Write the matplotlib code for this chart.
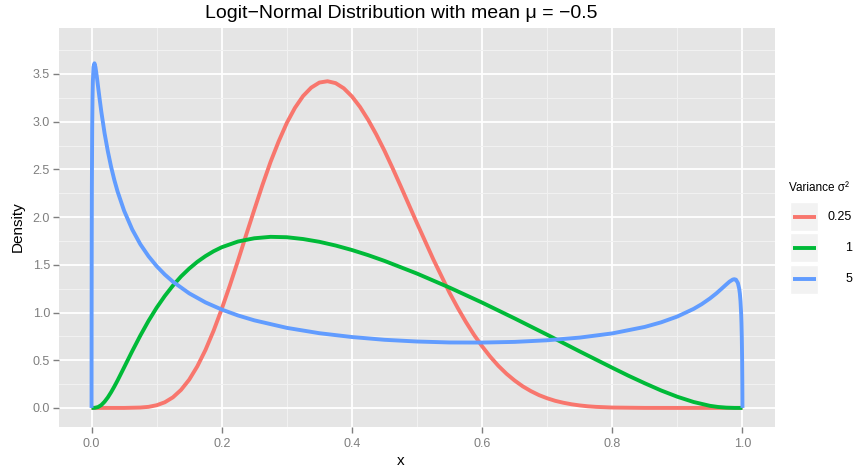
# Logit-normal tettheter, mean -0.5
import matplotlib
matplotlib.use("Agg")
import matplotlib.pyplot as plt
from matplotlib.patches import Rectangle
from matplotlib.lines import Line2D

plt.rcParams['font.family'] = ['Liberation Sans', 'DejaVu Sans']

# Avleste verdier
x_red = [0.0, 0.05, 0.075, 0.0875, 0.1, 0.1125, 0.125, 0.1375, 0.15, 0.1625, 0.175, 0.1875,
         0.2, 0.2125, 0.225, 0.2375, 0.25, 0.2625, 0.275, 0.2875, 0.3, 0.3125, 0.325, 0.3375,
         0.35, 0.3625, 0.375, 0.3875, 0.4, 0.4125, 0.425, 0.4375, 0.45, 0.4625, 0.475, 0.5,
         0.525, 0.55, 0.5625, 0.575, 0.5875, 0.6, 0.6125, 0.625, 0.6375, 0.65, 0.6625, 0.675,
         0.6875, 0.7, 0.7125, 0.725, 0.7375, 0.75, 0.7625, 0.775, 0.8, 0.85, 0.9, 1.0]
y_red = [0.0, 0.0, 0.004, 0.011, 0.028, 0.059, 0.111, 0.189, 0.296, 0.436, 0.607, 0.809,
         1.037, 1.284, 1.544, 1.813, 2.076, 2.335, 2.578, 2.794, 2.987, 3.145, 3.269, 3.357,
         3.410, 3.424, 3.404, 3.350, 3.265, 3.154, 3.019, 2.865, 2.696, 2.513, 2.323, 1.936,
         1.558, 1.207, 1.049, 0.902, 0.767, 0.646, 0.537, 0.441, 0.358, 0.287, 0.226, 0.176,
         0.134, 0.101, 0.074, 0.054, 0.038, 0.026, 0.017, 0.011, 0.004, 0.0003, 0.0, 0.0]

x_green = [0.0, 0.005, 0.01, 0.015, 0.02, 0.025, 0.03, 0.035, 0.04, 0.05, 0.0625, 0.075, 0.0875,
           0.1, 0.1125, 0.125, 0.1375, 0.15, 0.1625, 0.175, 0.1875, 0.2, 0.225, 0.25, 0.275,
           0.3, 0.325, 0.35, 0.375, 0.4, 0.425, 0.45, 0.5, 0.55, 0.6, 0.65, 0.7, 0.75, 0.8,
           0.825, 0.85, 0.875, 0.9, 0.925, 0.95, 0.9625, 0.975, 0.9875, 1.0]
y_green = [0.0, 0.001, 0.009, 0.030, 0.065, 0.110, 0.164, 0.224, 0.288, 0.424, 0.595, 0.759, 0.912,
           1.050, 1.173, 1.282, 1.378, 1.460, 1.531, 1.591, 1.642, 1.684, 1.744, 1.778, 1.793,
           1.789, 1.770, 1.741, 1.702, 1.655, 1.601, 1.541, 1.408, 1.261, 1.104, 0.938, 0.767, 0.592, 0.421,
           0.337, 0.258, 0.183, 0.117, 0.062, 0.022, 0.010, 0.003, 0.0002, 0.0]

x_blue = [0.0, 0.00005, 0.0001, 0.0002, 0.0003, 0.0005, 0.001, 0.0015, 0.002, 0.003, 0.0045,
          0.006, 0.008, 0.01, 0.0125, 0.015, 0.02, 0.025, 0.03, 0.035, 0.04, 0.05, 0.0625, 0.075,
          0.0875, 0.1, 0.1125, 0.125, 0.15, 0.175, 0.2, 0.225, 0.25, 0.3, 0.35, 0.4, 0.45, 0.5,
          0.55, 0.6, 0.65, 0.7, 0.75, 0.8, 0.85, 0.875, 0.9, 0.925, 0.9375, 0.95, 0.96, 0.97,
          0.975, 0.98, 0.985, 0.9875, 0.99, 0.993, 0.995, 0.996, 0.997, 0.998, 0.9985, 0.999,
          0.9995, 0.9998, 0.9999, 1.0]
y_blue = [0.0, 0.516, 0.905, 1.442, 1.813, 2.309, 2.945, 3.251, 3.418, 3.572, 3.612,
          3.572, 3.478, 3.368, 3.234, 3.105, 2.879, 2.691, 2.528, 2.389, 2.268, 2.067, 1.870, 1.715,
          1.590, 1.486, 1.398, 1.323, 1.201, 1.106, 1.031, 0.969, 0.918, 0.839, 0.783, 0.743, 0.714, 0.696,
          0.686, 0.685, 0.692, 0.709, 0.737, 0.781, 0.849, 0.897, 0.958, 1.038, 1.088, 1.147, 1.201, 1.262,
          1.293, 1.323, 1.345, 1.349, 1.344, 1.309, 1.250, 1.199, 1.118, 0.987, 0.886, 0.739,
          0.506, 0.262, 0.144, 0.0]

series = [("0.25", x_red, y_red, "#F8766D"),
          ("1", x_green, y_green, "#00BA38"),
          ("5", x_blue, y_blue, "#619CFF")]

W, H = 858, 473
fig = plt.figure(figsize=(W / 100, H / 100), dpi=100)
ax = fig.add_axes([59 / W, 1 - 427 / H, (775 - 59) / W, (427 - 27.7) / H])
ax.set_facecolor("#E5E5E5")

for lab, xs, ys, col in series:
    ax.plot(xs, ys, color=col, lw=2.8, solid_capstyle="butt", solid_joinstyle="round", zorder=3)

ax.set_xlim(-0.05, 1.05)
ax.set_ylim(-0.2, 3.985)
ax.set_xticks([0, 0.2, 0.4, 0.6, 0.8, 1.0])
ax.set_xticklabels(["0.0", "0.2", "0.4", "0.6", "0.8", "1.0"])
ax.set_yticks([0, 0.5, 1.0, 1.5, 2.0, 2.5, 3.0, 3.5])
ax.set_yticklabels(["0.0", "0.5", "1.0", "1.5", "2.0", "2.5", "3.0", "3.5"])
ax.set_xticks([0.1, 0.3, 0.5, 0.7, 0.9], minor=True)
ax.set_yticks([0.25, 0.75, 1.25, 1.75, 2.25, 2.75, 3.25, 3.75], minor=True)
ax.grid(which="major", color="white", lw=1.3)
ax.grid(which="minor", color="#F2F2F2", lw=0.7)
ax.set_axisbelow(True)
ax.tick_params(which="major", length=4.5, width=1, color="#7F7F7F", labelcolor="#7F7F7F", labelsize=9)
ax.tick_params(axis="x", pad=3.5)
ax.tick_params(axis="y", pad=2)
ax.tick_params(which="minor", length=0)
for s in ax.spines.values():
    s.set_visible(False)

fig.text(401.5 / W, 1 - 14 / H, "Logit\u2212Normal Distribution with mean \u03bc = \u22120.5",
         ha="center", va="center", fontsize=14)
fig.text(401 / W, 1 - 461 / H, "x", ha="center", va="center", fontsize=11)
fig.text(18 / W, 1 - 227 / H, "Density", ha="center", va="center", rotation=90, fontsize=11)

# Legende
fig.text(789 / W, 1 - 188 / H, "Variance \u03c3\u00b2", ha="left", va="center", fontsize=8.5)
rows = [217, 248, 279]
for (lab, xs, ys, col), yc in zip(series, rows):
    fig.add_artist(Rectangle((790 / W, 1 - (yc + 14.5) / H), 28 / W, 29 / H,
                             transform=fig.transFigure, facecolor="#F2F2F2", edgecolor="white", lw=1))
    fig.add_artist(Line2D([792.5 / W, 816 / W], [1 - yc / H, 1 - yc / H], transform=fig.transFigure,
                          color=col, lw=2.8, solid_capstyle="butt"))
    fig.text(852 / W, 1 - yc / H, lab, ha="right", va="center", fontsize=9)

fig.savefig("out.png", dpi=100)
